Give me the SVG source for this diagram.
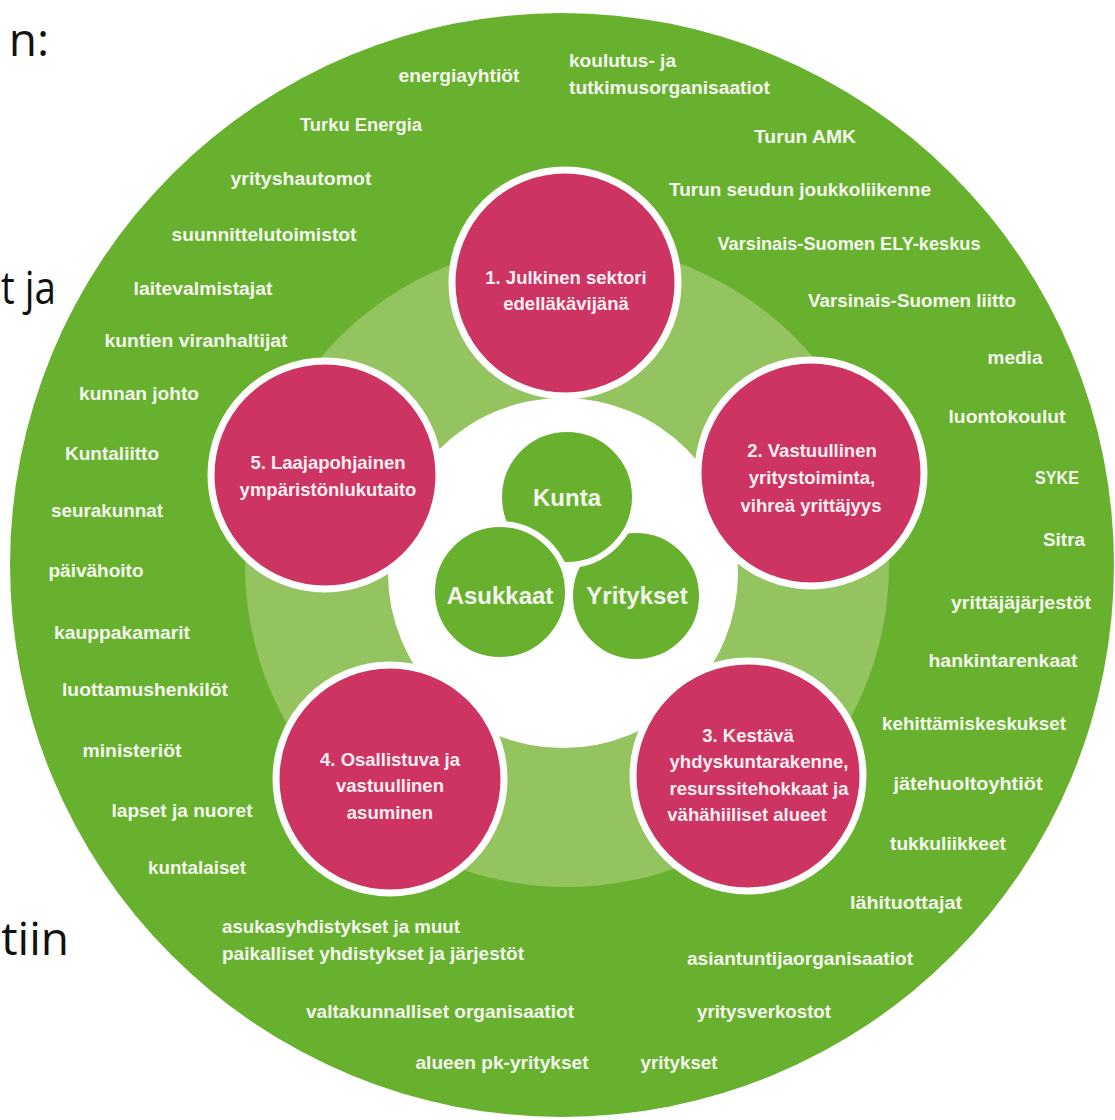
<svg xmlns="http://www.w3.org/2000/svg" width="1115" height="1120" viewBox="0 0 1115 1120">
<style>
.bg{fill:#ffffff}
.outer{fill:#68b12e}
.ring{fill:#93c45f}
.core{fill:#ffffff}
.pink{fill:#cd3462;stroke:#ffffff;stroke-width:7}
.inner{fill:#68b12e;stroke:#ffffff;stroke-width:6}
.lbl{font-family:"Liberation Sans",Arial,sans-serif;font-weight:bold;font-size:18px;fill:#f4f6ee;text-anchor:middle}
.ptx{font-family:"Liberation Sans",Arial,sans-serif;font-weight:bold;font-size:18.5px;fill:#fbeef2;text-anchor:middle}
.itx{font-family:"Liberation Sans",Arial,sans-serif;font-weight:bold;font-size:24px;fill:#f4f6ee;text-anchor:middle}
.slide{font-family:"Open Sans","Liberation Sans",Arial,sans-serif;font-size:46px;fill:#111111;text-anchor:end}
</style>
<rect class="bg" x="0" y="0" width="1115" height="1120"/>
<g id="slide-text">
<text class="slide" x="49" y="56">n:</text>
<text class="slide" x="1" y="304" style="text-anchor:start" textLength="55" lengthAdjust="spacingAndGlyphs">t ja</text>
<text class="slide" x="69" y="955">tiin</text>
</g>
<g id="outer-circle">
<circle class="outer" cx="562" cy="565" r="552"/>
</g>
<g id="middle-ring">
<circle class="ring" cx="567" cy="565" r="322"/>
</g>
<g id="center-area">
<circle class="core" cx="563" cy="573" r="175"/>
</g>
<g id="connectors"/>
<g id="stakeholders">
<text class="lbl" x="459" y="82" textLength="121" lengthAdjust="spacingAndGlyphs">energiayhtiöt</text>
<text class="lbl" x="569" y="67" style="text-anchor:start" textLength="107" lengthAdjust="spacingAndGlyphs">koulutus- ja</text>
<text class="lbl" x="569" y="94" style="text-anchor:start" textLength="201" lengthAdjust="spacingAndGlyphs">tutkimusorganisaatiot</text>
<text class="lbl" x="361" y="131" textLength="122" lengthAdjust="spacingAndGlyphs">Turku Energia</text>
<text class="lbl" x="805" y="143" textLength="102" lengthAdjust="spacingAndGlyphs">Turun AMK</text>
<text class="lbl" x="301" y="185" textLength="141" lengthAdjust="spacingAndGlyphs">yrityshautomot</text>
<text class="lbl" x="800" y="196" textLength="262" lengthAdjust="spacingAndGlyphs">Turun seudun joukkoliikenne</text>
<text class="lbl" x="264" y="241" textLength="185" lengthAdjust="spacingAndGlyphs">suunnittelutoimistot</text>
<text class="lbl" x="849" y="250" textLength="263" lengthAdjust="spacingAndGlyphs">Varsinais-Suomen ELY-keskus</text>
<text class="lbl" x="203" y="295" textLength="139" lengthAdjust="spacingAndGlyphs">laitevalmistajat</text>
<text class="lbl" x="912" y="307" textLength="208" lengthAdjust="spacingAndGlyphs">Varsinais-Suomen liitto</text>
<text class="lbl" x="196" y="347" textLength="183" lengthAdjust="spacingAndGlyphs">kuntien viranhaltijat</text>
<text class="lbl" x="1015" y="364" textLength="55" lengthAdjust="spacingAndGlyphs">media</text>
<text class="lbl" x="139" y="400" textLength="120" lengthAdjust="spacingAndGlyphs">kunnan johto</text>
<text class="lbl" x="1007" y="423" textLength="117" lengthAdjust="spacingAndGlyphs">luontokoulut</text>
<text class="lbl" x="112" y="460" textLength="94" lengthAdjust="spacingAndGlyphs">Kuntaliitto</text>
<text class="lbl" x="1057" y="484" textLength="44" lengthAdjust="spacingAndGlyphs">SYKE</text>
<text class="lbl" x="107" y="517" textLength="112" lengthAdjust="spacingAndGlyphs">seurakunnat</text>
<text class="lbl" x="1064" y="546" textLength="42" lengthAdjust="spacingAndGlyphs">Sitra</text>
<text class="lbl" x="96" y="577" textLength="95" lengthAdjust="spacingAndGlyphs">päivähoito</text>
<text class="lbl" x="1021" y="609" textLength="140" lengthAdjust="spacingAndGlyphs">yrittäjäjärjestöt</text>
<text class="lbl" x="122" y="639" textLength="136" lengthAdjust="spacingAndGlyphs">kauppakamarit</text>
<text class="lbl" x="1003" y="667" textLength="149" lengthAdjust="spacingAndGlyphs">hankintarenkaat</text>
<text class="lbl" x="145" y="696" textLength="166" lengthAdjust="spacingAndGlyphs">luottamushenkilöt</text>
<text class="lbl" x="974" y="730" textLength="184" lengthAdjust="spacingAndGlyphs">kehittämiskeskukset</text>
<text class="lbl" x="132" y="757" textLength="99" lengthAdjust="spacingAndGlyphs">ministeriöt</text>
<text class="lbl" x="968" y="790" textLength="149" lengthAdjust="spacingAndGlyphs">jätehuoltoyhtiöt</text>
<text class="lbl" x="182" y="817" textLength="141" lengthAdjust="spacingAndGlyphs">lapset ja nuoret</text>
<text class="lbl" x="948" y="850" textLength="116" lengthAdjust="spacingAndGlyphs">tukkuliikkeet</text>
<text class="lbl" x="197" y="874" textLength="98" lengthAdjust="spacingAndGlyphs">kuntalaiset</text>
<text class="lbl" x="906" y="909" textLength="112" lengthAdjust="spacingAndGlyphs">lähituottajat</text>
<text class="lbl" x="222" y="933" style="text-anchor:start" textLength="238" lengthAdjust="spacingAndGlyphs">asukasyhdistykset ja muut</text>
<text class="lbl" x="222" y="960" style="text-anchor:start" textLength="302" lengthAdjust="spacingAndGlyphs">paikalliset yhdistykset ja järjestöt</text>
<text class="lbl" x="800" y="965" textLength="226" lengthAdjust="spacingAndGlyphs">asiantuntijaorganisaatiot</text>
<text class="lbl" x="440" y="1018" textLength="268" lengthAdjust="spacingAndGlyphs">valtakunnalliset organisaatiot</text>
<text class="lbl" x="764" y="1018" textLength="134" lengthAdjust="spacingAndGlyphs">yritysverkostot</text>
<text class="lbl" x="502" y="1069" textLength="173" lengthAdjust="spacingAndGlyphs">alueen pk-yritykset</text>
<text class="lbl" x="679" y="1069" textLength="77" lengthAdjust="spacingAndGlyphs">yritykset</text>
</g>
<g id="node-1">
<circle class="pink" cx="565" cy="283" r="113"/>
<text class="ptx" x="566" y="284">1. Julkinen sektori</text>
<text class="ptx" x="566" y="310">edelläkävijänä</text>
</g>
<g id="node-2">
<circle class="pink" cx="811" cy="473" r="113"/>
<text class="ptx" x="812" y="457">2. Vastuullinen</text>
<text class="ptx" x="812" y="484">yritystoiminta,</text>
<text class="ptx" x="811" y="512">vihreä yrittäjyys</text>
</g>
<g id="node-3">
<circle class="pink" cx="748" cy="776" r="115"/>
<text class="ptx" x="748" y="742">3. Kestävä</text>
<text class="ptx" x="759" y="768">yhdyskuntarakenne,</text>
<text class="ptx" x="759" y="795">resurssitehokkaat ja</text>
<text class="ptx" x="747" y="821">vähähiiliset alueet</text>
</g>
<g id="node-4">
<circle class="pink" cx="390" cy="779" r="114"/>
<text class="ptx" x="390" y="766">4. Osallistuva ja</text>
<text class="ptx" x="390" y="792">vastuullinen</text>
<text class="ptx" x="390" y="819">asuminen</text>
</g>
<g id="node-5">
<circle class="pink" cx="325" cy="475" r="114"/>
<text class="ptx" x="328" y="469">5. Laajapohjainen</text>
<text class="ptx" x="328" y="496">ympäristönlukutaito</text>
</g>
<g id="node-yritykset">
<circle class="inner" cx="636" cy="596" r="66"/>
<text class="itx" x="637" y="604">Yritykset</text>
</g>
<g id="node-kunta">
<circle class="inner" cx="567" cy="497" r="68"/>
<text class="itx" x="567" y="506">Kunta</text>
</g>
<g id="node-asukkaat">
<circle class="inner" cx="500" cy="592" r="68"/>
<text class="itx" x="500" y="604">Asukkaat</text>
</g>
</svg>
